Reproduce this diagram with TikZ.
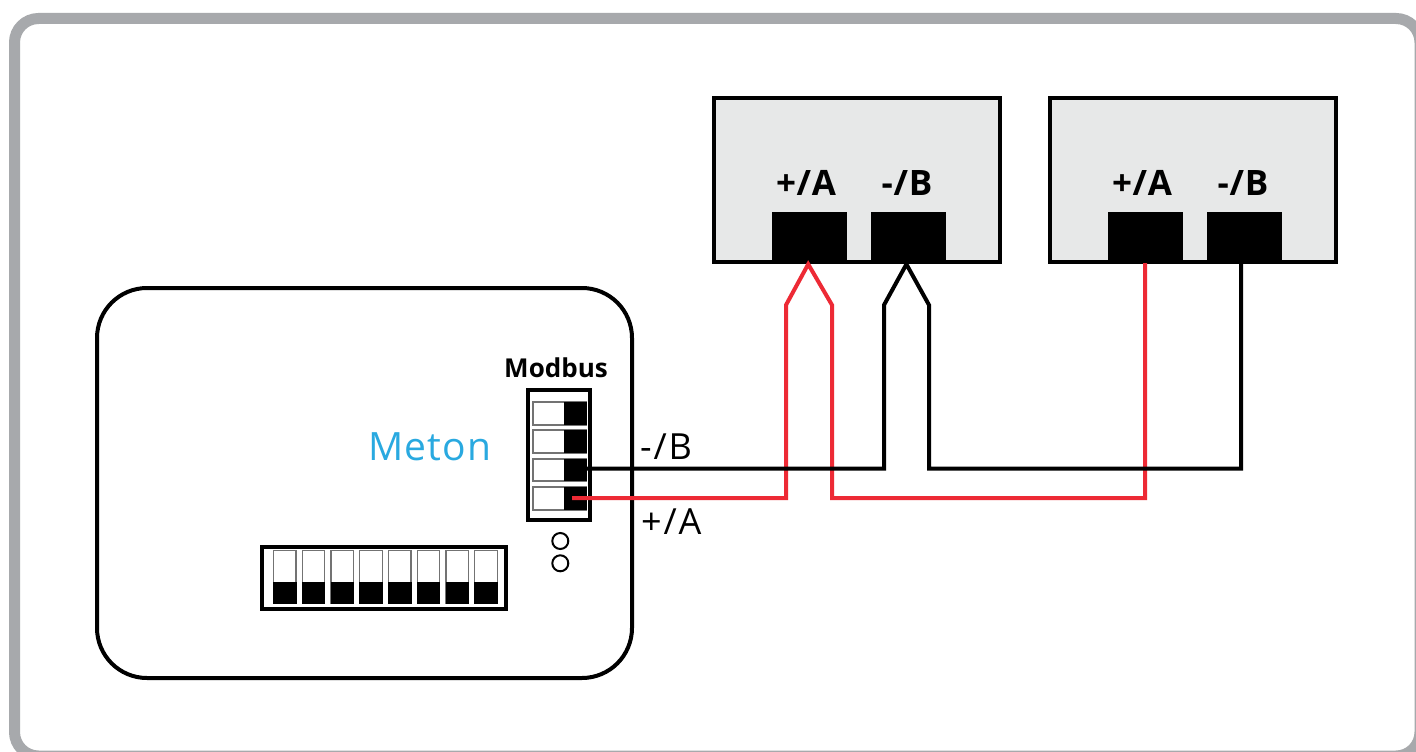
\documentclass[tikz,border=0pt]{standalone}
\usepackage{fontspec}
\setmainfont{Open Sans}
\newfontfamily\labelfont[LetterSpace=2]{Open Sans}
\newfontfamily\wirefont[LetterSpace=5]{Open Sans}
\newfontfamily\modfont{Open Sans}
\newfontfamily\brandfont[LetterSpace=3]{Open Sans}
\definecolor{framegray}{HTML}{A7A9AC}
\definecolor{boxgray}{HTML}{E7E8E8}
\definecolor{wirered}{HTML}{ED2A35}
\definecolor{brandblue}{HTML}{29A9E0}
\tikzset{
  x=1pt,y=-1pt,
  frame/.style={draw=framegray,line width=11pt,fill=white,rounded corners=24pt},
  devicebox/.style={draw=black,line width=4pt,fill=boxgray,rectangle,inner sep=0pt,minimum width=286.5pt,minimum height=164pt},
  terminal/.style={fill=black,rectangle,inner sep=0pt,minimum width=75pt,minimum height=51.3pt},
  wire/.style={line width=4pt,line join=miter},
  swoutline/.style={draw=black!55,line width=1.2pt,fill=white},
  swblack/.style={fill=black,rectangle,inner sep=0pt,outer sep=0pt},
  ledring/.style={draw=black,line width=2pt,fill=white,circle,minimum size=16pt,inner sep=0pt},
  termlabel/.style={font=\labelfont\bfseries\fontsize{35}{35}\selectfont,inner sep=0pt,anchor=base},
  wirelabel/.style={font=\wirefont\fontsize{36}{36}\selectfont,inner sep=0pt,anchor=base west},
}
\begin{document}
\begin{tikzpicture}
\useasboundingbox (0,0) rectangle (1416,752);
\fill[white] (0,0) rectangle (1416,752);
\draw[frame] (14.5,18.5) rectangle (1420,756);
% Meter body
\draw[draw=black,line width=4pt,fill=white,rounded corners=50pt] (97,288) rectangle (632,678);
\node[anchor=base,inner sep=0pt,text=brandblue,font=\brandfont\fontsize{39}{39}\selectfont] (meton) at (430,460) {Meton};
\node[anchor=base,inner sep=0pt,font=\modfont\bfseries\fontsize{26}{26}\selectfont] (modbus) at (556,377) {Modbus};
\draw[draw=black,line width=4pt,fill=white] (528,390) rectangle (590,520);
% Modbus switches
\foreach \n/\t/\b in {1/402/425,2/430/453,3/459/481,4/487/510}{
  \draw[swoutline] (533,\t) rectangle (586,\b);
  \pgfmathsetmacro{\hh}{\b-\t}
  \node[swblack,minimum width=23pt,minimum height=\hh pt] (sw\n) at (575,{(\t+\b)/2}) {};
}
\coordinate (redstart) at ([xshift=-3pt,yshift=.5pt]sw4.center);
\coordinate (blackstart) at ([yshift=1.5pt]sw3.east);
\node[ledring] (led1) at (560.3,541) {};
\node[ledring] (led2) at (560.3,563.3) {};
% DIP switch
\draw[draw=black,line width=4pt,fill=white] (261.5,546.5) rectangle (506,609);
\foreach \i in {0,...,7}{
  \draw[swoutline] ({273.5+28.75*\i},550.5) rectangle ({296+28.75*\i},603);
  \fill[black] ({273+28.75*\i},582) rectangle ({296.5+28.75*\i},603.5);
}
% Devices
\node[devicebox] (dev1) at (857,179.65) {};
\node[devicebox] (dev2) at (1193,179.65) {};
\node[terminal] (a1) at (809.2,237.35) {};
\node[terminal] (b1) at (908,237.35) {};
\node[terminal] (a2) at (1145.2,237.35) {};
\node[terminal] (b2) at (1244,237.35) {};
\node[termlabel] (la1) at (806,195) {+/A};
\node[termlabel] (lb1) at (907,195) {-/B};
\node[termlabel] (la2) at (1142,195) {+/A};
\node[termlabel] (lb2) at (1243,195) {-/B};
\coordinate (ta1) at ([xshift=-1pt,yshift=-1pt]a1.south);
\coordinate (tb1) at ([xshift=-1.6pt,yshift=-1pt]b1.south);
\coordinate (tb2) at ([xshift=-3pt]b2.south);
% Wires
\draw[wire,wirered] (redstart) -- (786,498) -- (786,305) -- (ta1) -- (832,305) -- (832,498) -- (1145.2,498) -- (a2.south);
\draw[wire,black] (blackstart) -- (884,468.5) -- (884,305) -- (tb1) -- (929,305) -- (929,468.5) -- (1241,468.5) -- (tb2);
\node[wirelabel] (wb) at (640,459) {-/B};
\node[wirelabel] (wa) at (641,534) {+/A};
\end{tikzpicture}
\end{document}
